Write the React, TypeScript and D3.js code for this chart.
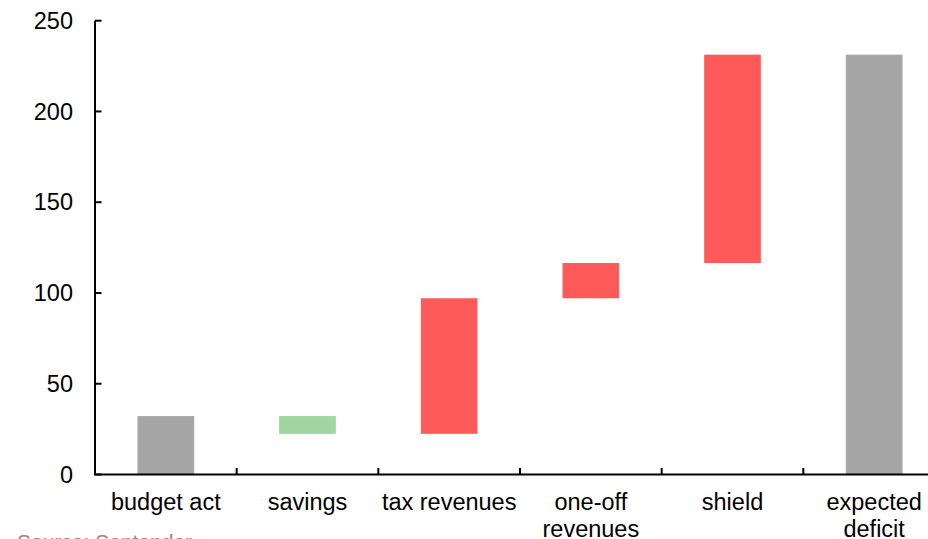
import React from 'react';
import * as d3 from 'd3';

const categories = ['budget act', 'savings', 'tax revenues', 'one-off revenues', 'shield', 'expected deficit'];
const categoryLines = [['budget act'], ['savings'], ['tax revenues'], ['one-off', 'revenues'], ['shield'], ['expected', 'deficit']];
const kinds = ['total', 'decrease', 'increase', 'increase', 'increase', 'total'];
const changes = [32.2, -9.8, 74.7, 19.4, 114.8, 0];
const yTicks = [0, 50, 100, 150, 200, 250];
const colors: Record<string, string> = { total: '#A6A6A6', decrease: '#A0D6A0', increase: '#FF5A5A' };

export default function App() {
  const W = 928, H = 539;
  const x = d3.scaleBand<string>().domain(categories).range([95, 945]).paddingInner(0.6).paddingOuter(0.3);
  const y = d3.scaleLinear().domain([0, 250]).range([474.5, 20.7]);
  let cum = 0;
  const bars = categories.map((c, i) => {
    let lo: number, hi: number;
    if (kinds[i] === 'total' && i > 0) { lo = 0; hi = cum; }
    else { const s = cum; cum += changes[i]; lo = Math.min(s, cum); hi = Math.max(s, cum); if (kinds[i] === 'total') lo = 0; }
    return { c, lo, hi, kind: kinds[i] };
  });
  const step = x.step();
  const font = '"Liberation Sans", Arial, sans-serif';
  return (
    <svg width={W} height={H} style={{ position: 'absolute', left: 0, top: 0 }} fontFamily={font}>
      <rect width={W} height={H} fill="#fff" />
      {bars.map(b => (
        <rect key={b.c} x={x(b.c)!} width={x.bandwidth()} y={y(b.hi)} height={y(b.lo) - y(b.hi)} fill={colors[b.kind]} />
      ))}
      <line x1={95} x2={95} y1={y(250)} y2={y(0)} stroke="#000" strokeWidth={2} />
      <line x1={94} x2={945} y1={y(0)} y2={y(0)} stroke="#000" strokeWidth={2} />
      {yTicks.map(t => (
        <g key={t}>
          <line x1={95} x2={101.5} y1={y(t)} y2={y(t)} stroke="#000" strokeWidth={2} />
          <text x={73} y={y(t)} dy="0.35em" textAnchor="end" fontSize={23.5} fill="#000">{t}</text>
        </g>
      ))}
      {categories.slice(1).map(c => (
        <line key={c} x1={x(c)! - (step - x.bandwidth()) / 2} x2={x(c)! - (step - x.bandwidth()) / 2} y1={y(0)} y2={y(0) - 6.5} stroke="#000" strokeWidth={2} />
      ))}
      {categories.map((c, i) => (
        <text key={c} x={x(c)! + x.bandwidth() / 2} y={510} textAnchor="middle" fontSize={23.5} fill="#000">
          {categoryLines[i].map((l, j) => (
            <tspan key={j} x={x(c)! + x.bandwidth() / 2} dy={j === 0 ? 0 : 27}>{l}</tspan>
          ))}
        </text>
      ))}
      <text x={17} y={549} fontSize={21} fill="#8C8C8C">Source: Santander</text>
    </svg>
  );
}
